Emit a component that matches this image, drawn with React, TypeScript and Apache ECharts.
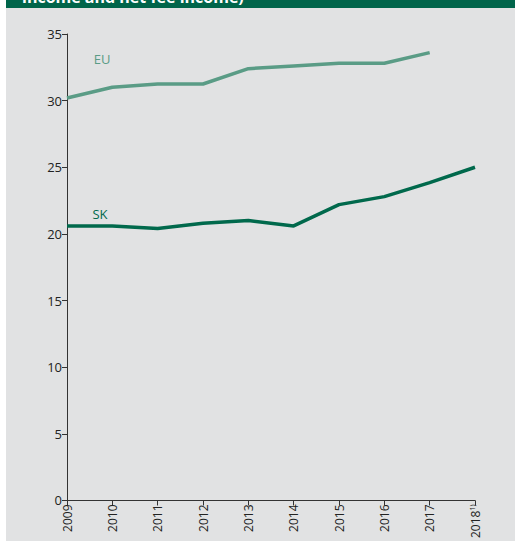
import React, { useEffect, useRef } from "react";
import * as echarts from "echarts";

const years = ["2009", "2010", "2011", "2012", "2013", "2014", "2015", "2016", "2017", "2018"];
const euValues = [30.2, 31.0, 31.25, 31.25, 32.4, 32.6, 32.8, 32.8, 33.6, null];
const skValues = [20.6, 20.6, 20.4, 20.8, 21.0, 20.6, 22.2, 22.8, 23.85, 25.0];
const yTicks = [0, 5, 10, 15, 20, 25, 30, 35];

const EU_COLOR = "#5a9c86";
const SK_COLOR = "#00694c";
const FONT = "'Open Sans', 'Noto Sans', sans-serif";

export default function App() {
  const ref = useRef<HTMLDivElement>(null);
  useEffect(() => {
    document.body.style.margin = "0";
    const chart = echarts.init(ref.current!, null, { renderer: "svg" });
    chart.setOption({
      animation: false,
      backgroundColor: "#ffffff",
      graphic: [
        { type: "rect", z: -10, shape: { x: 6, y: 0, width: 509, height: 541 }, style: { fill: "#e1e2e3" } },
        { type: "rect", z: -9, shape: { x: 6, y: 0, width: 509, height: 8 }, style: { fill: "#00654a" } },
        {
          type: "text",
          z: -8,
          x: 22,
          y: 5,
          style: {
            text: "income and net fee income)",
            fill: "#ffffff",
            font: "bold 16px " + FONT,
            verticalAlign: "bottom",
          },
        },
        {
          type: "text",
          x: 102,
          y: 59,
          style: { text: "EU", fill: EU_COLOR, font: "13px " + FONT, align: "center", verticalAlign: "middle" },
        },
        {
          type: "text",
          x: 100,
          y: 214,
          style: { text: "SK", fill: SK_COLOR, font: "13px " + FONT, align: "center", verticalAlign: "middle" },
        },
      ],
      grid: { left: 67, right: 40, top: 34, bottom: 35, containLabel: false },
      xAxis: {
        type: "category",
        data: years,
        boundaryGap: false,
        axisLine: { lineStyle: { color: "#333333", width: 1 } },
        axisTick: { show: true, length: 5, inside: false, lineStyle: { color: "#333333" } },
        axisLabel: {
          rotate: 90,
          margin: 4,
          color: "#222222",
          fontFamily: FONT,
          fontSize: 12,
          interval: 0,
          formatter: (v: string) => (v === "2018" ? "{a|2018}{s|1)}" : v),
          rich: {
            a: { fontSize: 12, fontFamily: FONT, color: "#222222" },
            s: { fontSize: 7, fontFamily: FONT, color: "#222222", verticalAlign: "top", padding: [0, 0, 6, 0] },
          },
        },
        splitLine: { show: false },
      },
      yAxis: {
        type: "value",
        min: yTicks[0],
        max: yTicks[yTicks.length - 1],
        interval: 5,
        axisLine: { show: true, lineStyle: { color: "#333333", width: 1 } },
        axisTick: { show: true, length: 5, lineStyle: { color: "#333333" } },
        axisLabel: { color: "#222222", fontFamily: FONT, fontSize: 13, margin: 5 },
        splitLine: { show: false },
      },
      series: [
        {
          name: "EU",
          type: "line",
          data: euValues,
          symbol: "none",
          lineStyle: { color: EU_COLOR, width: 3.5 },
          itemStyle: { color: EU_COLOR },
        },
        {
          name: "SK",
          type: "line",
          data: skValues,
          symbol: "none",
          lineStyle: { color: SK_COLOR, width: 3.5 },
          itemStyle: { color: SK_COLOR },
        },
      ],
    });
    return () => chart.dispose();
  }, []);
  return <div ref={ref} style={{ position: "fixed", left: 0, top: 0, width: 515, height: 541 }} />;
}
